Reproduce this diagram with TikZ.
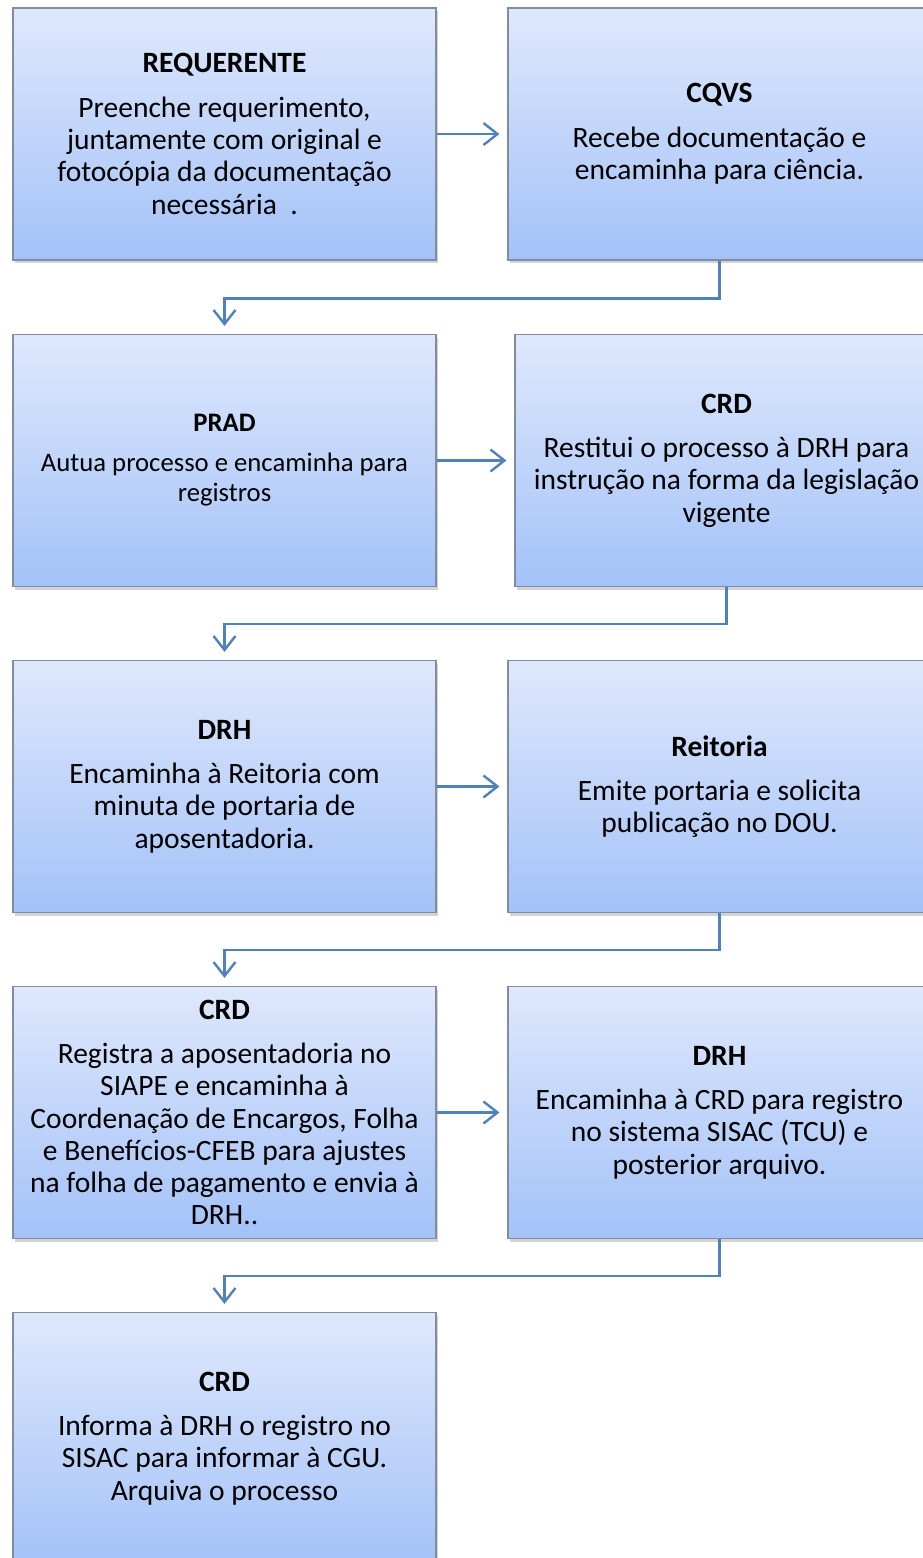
\documentclass[tikz,border=0pt]{standalone}
\usepackage{fontspec}
\setmainfont{Carlito}
\usetikzlibrary{arrows.meta,shadows}
\definecolor{boxtop}{RGB}{223,232,252}
\definecolor{boxbot}{RGB}{163,194,248}
\definecolor{boxline}{RGB}{128,140,160}
\definecolor{flow}{RGB}{79,129,189}
\begin{document}
\begin{tikzpicture}[x=1pt,y=-1pt,
    etapa/.style={draw=boxline, line width=1.2pt, top color=boxtop, bottom color=boxbot,
      minimum width=423pt, minimum height=252pt, align=center,
      font=\fontsize{29.5}{32.3}\selectfont,
      drop shadow={shadow xshift=1.5pt, shadow yshift=-3pt, opacity=.35}},
    menor/.style={font=\fontsize{26.7}{30}\selectfont},
    seta/.style={draw=flow, line width=2.4pt, -{Straight Barb[length=14pt,width=22pt,line width=2.4pt]}, shorten >=8pt}]
  \tikzstyle{every node}+=[inner sep=0pt]
  \useasboundingbox (0,0) rectangle (923,1558);
  \clip (0,0) rectangle (923,1558);
  \node [etapa] (req) at (224.5,134) {{\bfseries REQUERENTE}\\[12pt]Preenche requerimento,\\juntamente com original e\\fotocópia da documentação\\necessária\ \ .};
  \node [etapa] (cqvs) at (719.5,134) {{\bfseries CQVS}\\[12pt]Recebe documentação e\\encaminha para ciência.};
  \node [etapa,menor] (prad) at (224.5,460.5) {{\bfseries PRAD}\\[10pt]Autua processo e encaminha para\\registros};
  \node [etapa] (crd1) at (726.5,460.5) {{\bfseries CRD}\\[12pt]Restitui o processo à DRH para\\instrução na forma da legislação\\vigente};
  \node [etapa] (drh1) at (224.5,786.5) {{\bfseries DRH}\\[12pt]Encaminha à Reitoria com\\minuta de portaria de\\aposentadoria.};
  \node [etapa] (reit) at (719.5,786.5) {{\bfseries Reitoria}\\[12pt]Emite portaria e solicita\\publicação no DOU.};
  \node [etapa] (crd2) at (224.5,1112.5) {{\bfseries CRD}\\[12pt]Registra a aposentadoria no\\SIAPE e encaminha à\\Coordenação de Encargos, Folha\\e Benefícios-CFEB para ajustes\\na folha de pagamento e envia à\\DRH..};
  \node [etapa] (drh2) at (719.5,1112.5) {{\bfseries DRH}\\[12pt]Encaminha à CRD para registro\\no sistema SISAC (TCU) e\\posterior arquivo.};
  \node [etapa] (crd3) at (224.5,1438.5) {{\bfseries CRD}\\[12pt]Informa à DRH o registro no\\SISAC para informar à CGU.\\Arquiva o processo};
  \draw [seta] (req.east) -- (req.east -| cqvs.west);
  \draw [seta] (cqvs.south) -- ++(0,38) -| (prad.north);
  \draw [seta] (prad.east) -- (prad.east -| crd1.west);
  \draw [seta] (crd1.south) -- ++(0,37) -| (drh1.north);
  \draw [seta] (drh1.east) -- (drh1.east -| reit.west);
  \draw [seta] (reit.south) -- ++(0,37) -| (crd2.north);
  \draw [seta] (crd2.east) -- (crd2.east -| drh2.west);
  \draw [seta] (drh2.south) -- ++(0,37) -| (crd3.north);
\end{tikzpicture}
\end{document}
